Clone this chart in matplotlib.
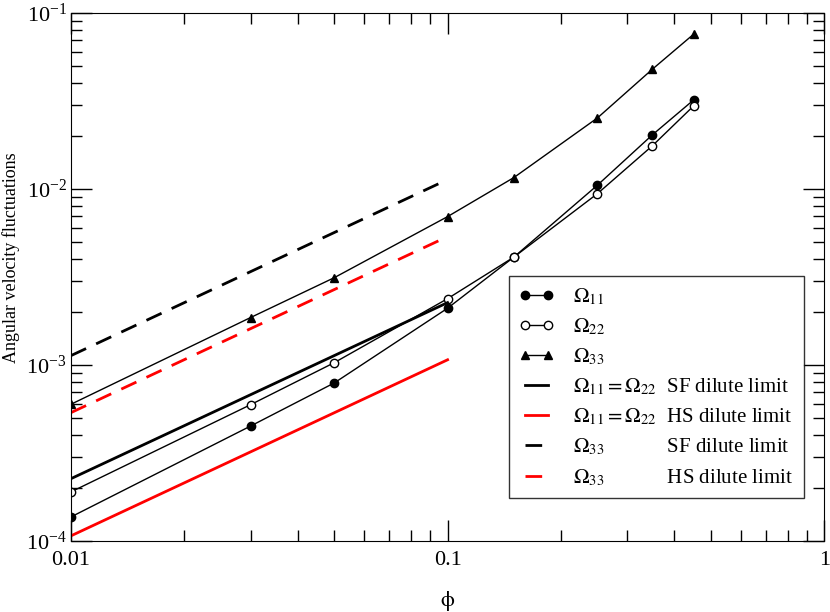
import numpy as np
import matplotlib
matplotlib.use("Agg")
import matplotlib.pyplot as plt

plt.rcParams['font.family'] = ['Liberation Serif', 'DejaVu Serif']
plt.rcParams['mathtext.fontset'] = 'stix'

# simulation data
phi = [0.01, 0.03, 0.05, 0.1, 0.15, 0.25, 0.35, 0.45]
om11 = [1.37e-4, 4.5e-4, 7.9e-4, 2.1e-3, 4.1e-3, 1.05e-2, 2.03e-2, 3.2e-2]
om22 = [1.9e-4, 5.95e-4, 1.03e-3, 2.38e-3, 4.1e-3, 9.4e-3, 1.76e-2, 2.96e-2]
om33 = [5.98e-4, 1.86e-3, 3.13e-3, 6.96e-3, 1.16e-2, 2.53e-2, 4.79e-2, 7.56e-2]

# dilute limits (end points)
phi_dil = [0.01, 0.1]
sf_11 = [2.26e-4, 2.26e-3]
hs_11 = [1.07e-4, 1.07e-3]
sf_33 = [1.13e-3, 1.13e-2]
hs_33 = [5.36e-4, 5.36e-3]

fig = plt.figure(figsize=(8.3, 6.12), dpi=100)
ax = fig.add_axes([0.0855, 0.116, 0.9075, 0.863])

ax.plot(phi, om11, '-o', color='black', lw=1, ms=6, label=r'$\Omega_{11}$')
ax.plot(phi, om22, '-o', color='black', mfc='white', lw=1, ms=6, label=r'$\Omega_{22}$')
ax.plot(phi, om33, '-^', color='black', lw=1, ms=6, label=r'$\Omega_{33}$')
ax.plot(phi_dil, sf_11, '-', color='black', lw=2,
        label=r'$\Omega_{11} = \Omega_{22}$  SF dilute limit')
ax.plot(phi_dil, hs_11, '-', color='red', lw=2,
        label=r'$\Omega_{11} = \Omega_{22}$  HS dilute limit')
ax.plot(phi_dil, sf_33, '--', color='black', lw=2, dashes=(6, 4),
        label=r'$\Omega_{33}$' + '            SF dilute limit')
ax.plot(phi_dil, hs_33, '--', color='red', lw=2, dashes=(6, 4),
        label=r'$\Omega_{33}$' + '            HS dilute limit')

ax.set_xscale('log')
ax.set_yscale('log')
ax.set_xlim(0.01, 1)
ax.set_ylim(1e-4, 1e-1)
ax.set_xticks([0.01, 0.1, 1])
ax.set_xticklabels(['0.01', '0.1', '1'])

ax.tick_params(which='both', direction='in', top=True, right=True, labelsize=16)
ax.tick_params(which='major', length=15, width=1)
ax.tick_params(which='minor', length=8, width=1)
ax.tick_params(axis='x', pad=7)
ax.tick_params(axis='y', pad=3)

ax.set_xlabel(r'$\mathrm{\phi}$', fontsize=16, labelpad=14)
ax.set_ylabel('Angular velocity fluctuations', fontsize=13)
ax.yaxis.set_label_coords(-0.068, 0.536)

leg = ax.legend(loc='lower right', bbox_to_anchor=(0.973, 0.081), borderaxespad=0,
                fontsize=15, numpoints=2, handlelength=1.7, handletextpad=0.9,
                frameon=True, fancybox=False, edgecolor='black',
                borderpad=0.5, labelspacing=0.45)
leg.get_frame().set_linewidth(1)

fig.savefig('out.png', dpi=100)
